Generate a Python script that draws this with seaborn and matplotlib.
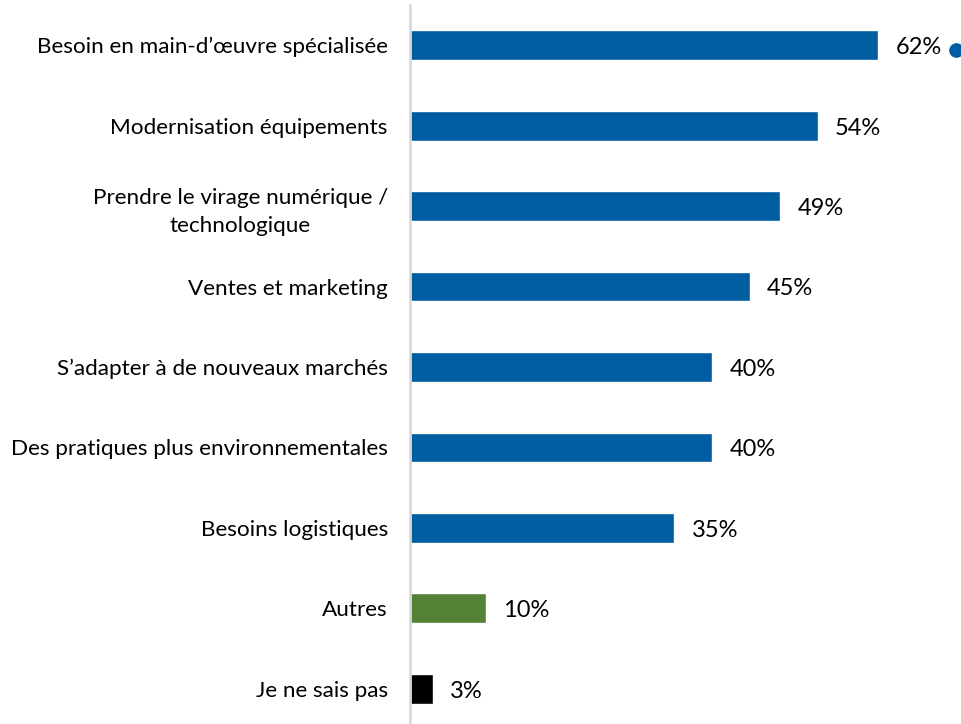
import matplotlib
matplotlib.use("Agg")
import matplotlib.pyplot as plt
import seaborn as sns
import pandas as pd

categories = [
    "Besoin en main-d\u2019\u0153uvre sp\u00e9cialis\u00e9e",
    "Modernisation \u00e9quipements",
    "Prendre le virage num\u00e9rique /\ntechnologique",
    "Ventes et marketing",
    "S\u2019adapter \u00e0 de nouveaux march\u00e9s",
    "Des pratiques plus environnementales",
    "Besoins logistiques",
    "Autres",
    "Je ne sais pas",
]
values = [62, 54, 49, 45, 40, 40, 35, 10, 3]
bar_colors = ["#005DA2"] * 7 + ["#538135", "#000000"]

df = pd.DataFrame({"cat": categories, "val": values})

sns.set_theme(style="white")
plt.rcParams["font.family"] = ["Lato", "DejaVu Sans"]

fig = plt.figure(figsize=(9.62, 7.24), dpi=100)
ax = fig.add_axes([410 / 962, -5 / 724, 552 / 962, 1.0])

sns.barplot(data=df, x="val", y="cat", hue="cat", palette=bar_colors,
            legend=False, width=0.37, ax=ax, saturation=1)

ax.set_xlim(0, 73.1)
ax.set_ylim(8.5, -0.5)
ax.set_xlabel("")
ax.set_ylabel("")
ax.set_xticks([])
ax.set_yticks(range(len(categories)))
ax.set_yticklabels(categories, fontsize=16.2, color="#000000",
                   multialignment="center", linespacing=1.5)
ax.tick_params(axis="y", length=0, pad=16)

for s in ["top", "right", "bottom"]:
    ax.spines[s].set_visible(False)
ax.spines["left"].set_color("#d9d9d9")
ax.spines["left"].set_linewidth(2)

for i, v in enumerate(values):
    ax.text(v + 2.3, i + 0.03, f"{v}%", va="center", ha="left", fontsize=17,
            color="#000000")

# series marker, partly cut by the right edge
ax.plot([72.3], [0.06], marker="o", markersize=9.5, color="#005DA2",
        clip_on=False)

fig.savefig("out.png", dpi=100)
